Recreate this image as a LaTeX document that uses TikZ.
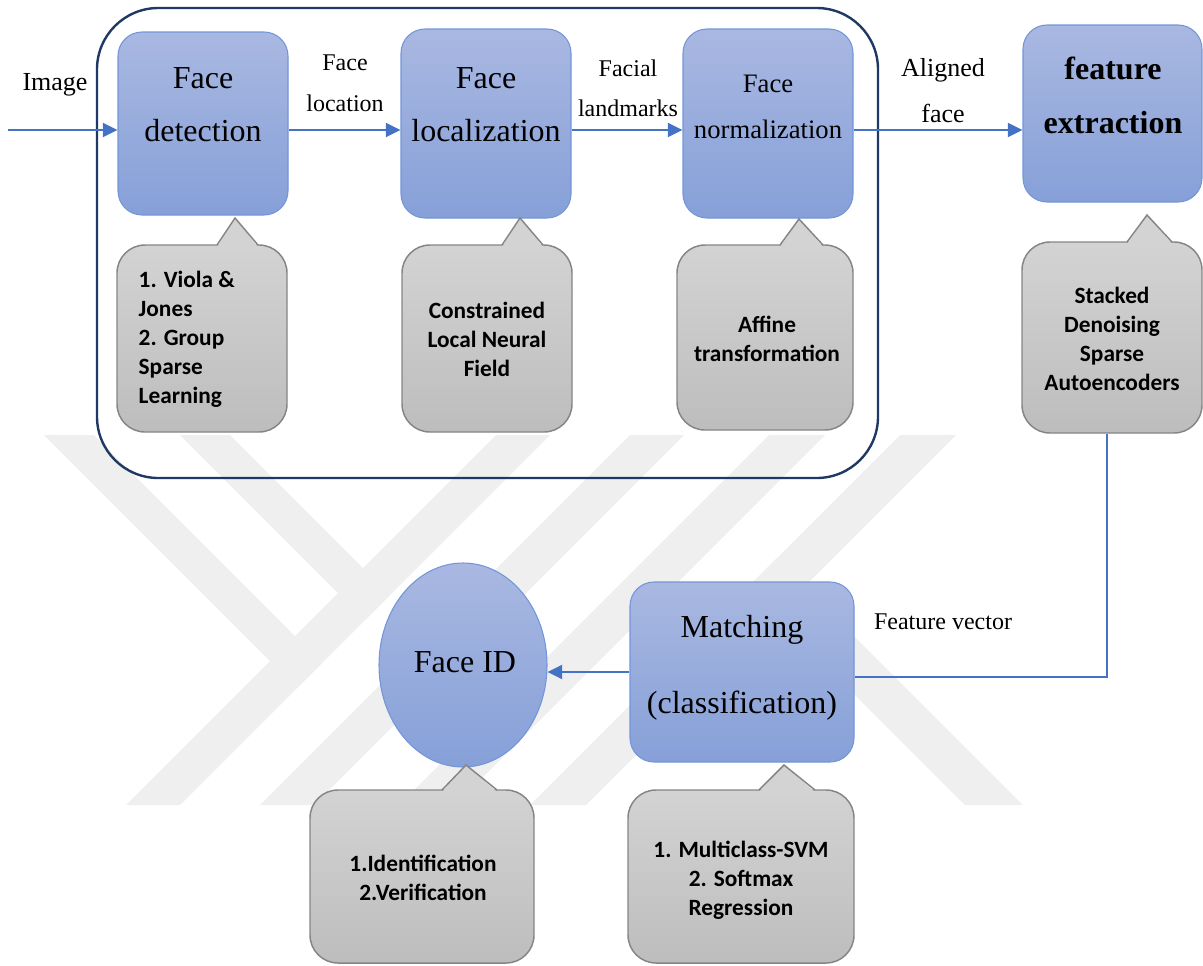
\documentclass[tikz,border=0pt]{standalone}
\usepackage{fontspec}
\setmainfont{Liberation Serif}
\newfontfamily\notefont{Carlito}
\usetikzlibrary{arrows.meta,shapes.geometric}

\definecolor{boxtop}{HTML}{A9B8E1}
\definecolor{boxbot}{HTML}{86A0D8}
\definecolor{boxedge}{HTML}{7395DA}
\definecolor{notetop}{HTML}{D3D3D3}
\definecolor{notebot}{HTML}{BDBDBD}
\definecolor{noteedge}{HTML}{858585}
\definecolor{flowblue}{HTML}{4472C4}
\definecolor{navy}{HTML}{1F3864}
\definecolor{wmark}{HTML}{EFEFEF}

% speech-bubble tip: base from #1 to #4 on the top edge #5, apex at (#2,#3)
\newcommand\notetip[5]{%
  \fill[notetop] (#1,#5+2) -- (#2,#3) -- (#4,#5+2) -- cycle;
  \draw[noteedge, line width=1.1pt, line join=miter] (#1,#5) -- (#2,#3) -- (#4,#5);
}

\begin{document}
\begin{tikzpicture}[x=0.75pt,y=-0.75pt,
  bluebox/.style={draw=boxedge, line width=0.8pt, top color=boxtop, bottom color=boxbot,
    rounded corners=18pt, inner sep=0pt},
  notebox/.style={draw=noteedge, line width=1.1pt, top color=notetop, bottom color=notebot,
    rounded corners=21pt, inner sep=0pt},
  frame/.style={draw=navy, line width=1.8pt, rounded corners=46pt, inner sep=0pt},
  flow/.style={draw=flowblue, line width=1.7pt, -{Triangle[length=11pt,width=10.5pt]}},
  fvline/.style={draw=flowblue, line width=1.4pt},
  boxtext/.style={align=center, font=\fontsize{24}{40}\selectfont},
  notetext/.style={align=center, font=\notefont\bfseries\fontsize{17.5}{21.75}\selectfont},
  lbl/.style={align=center, font=\fontsize{18}{31}\selectfont},
  wm/.style={fill=wmark}
]
\useasboundingbox (0,0) rectangle (1203,965);

% background watermark stripes
\fill[wm] (126,805) -- (180,805) -- (550,435) -- (496,435) -- cycle;
\fill[wm] (260,805) -- (314,805) -- (684,435) -- (630,435) -- cycle;
\fill[wm] (399,805) -- (455,805) -- (825,435) -- (769,435) -- cycle;
\fill[wm] (530,805) -- (586,805) -- (956,435) -- (900,435) -- cycle;
\fill[wm] (44,435) -- (94,435) -- (322,663) -- (297,688) -- cycle;
\fill[wm] (180,435) -- (230,435) -- (390,595) -- (365,620) -- cycle;
\fill[wm] (747.5,587.5) -- (776.5,558.5) -- (1023,805) -- (965,805) -- cycle;

% grouping frame of the alignment stages
\node[frame, minimum width=585.75pt, minimum height=352.5pt] (stage) at (487.5,243) {};

% processing blocks
\node[bluebox, minimum width=127.5pt, minimum height=137.25pt] (det) at (203,123.5) {};
\node[boxtext] (det-t) at (203,105) {Face\\detection};

\node[bluebox, minimum width=127.5pt, minimum height=141.75pt] (loc) at (486,123.5) {};
\node[boxtext] (loc-t) at (486,105) {Face\\localization};

\node[bluebox, minimum width=127.5pt, minimum height=141.75pt] (norm) at (768,123.5) {};
\node[boxtext, font=\fontsize{20}{34.5}\selectfont] (norm-t) at (768,107) {Face\\normalization};

\node[bluebox, minimum width=134.25pt, minimum height=132.75pt] (feat) at (1112.5,113.5) {};
\node[boxtext, font=\bfseries\fontsize{24}{41}\selectfont] (feat-t) at (1113,95.5) {feature\\extraction};

\node[bluebox, minimum width=168pt, minimum height=135pt] (match) at (742,672) {};
\node[boxtext, font=\fontsize{24}{57}\selectfont] (match-t) at (742,668) {Matching\\(classification)};

\node[bluebox, ellipse, minimum width=126pt, minimum height=153pt] (faceid) at (463,665) {};
\node[boxtext] (faceid-t) at (465,662) {Face ID};

% method notes
\node[notebox, minimum width=127.5pt, minimum height=140.25pt] (dcall) at (202,338.5) {};
\notetip{217}{235}{218}{258}{245}
\node[notetext, align=left, anchor=west] (dcall-t) at (134,339)
  {1. Viola \&\\Jones\\2. Group\\Sparse\\Learning};

\node[notebox, minimum width=127.5pt, minimum height=140.25pt] (lcall) at (487,338.5) {};
\notetip{502}{520}{218}{543}{245}
\node[notetext] (lcall-t) at (487,339) {Constrained\\Local Neural\\Field};

\node[notebox, minimum width=132pt, minimum height=138.75pt] (ncall) at (765,337.5) {};
\notetip{780}{799}{219}{823}{245}
\node[notetext] (ncall-t) at (767,339) {Affine\\transformation};

\node[notebox, minimum width=135pt, minimum height=143.25pt] (fcall) at (1112,337.5) {};
\notetip{1127}{1147}{215}{1172}{242}
\node[notetext] (fcall-t) at (1112,339) {Stacked\\Denoising\\Sparse\\Autoencoders};

\node[notebox, minimum width=168pt, minimum height=129.75pt] (icall) at (422,876.5) {};
\notetip{442}{466}{765}{497}{790}
\node[notetext] (icall-t) at (423,878) {1.Identification\\2.Verification};

\node[notebox, minimum width=169.5pt, minimum height=129.75pt] (mcall) at (741,876.5) {};
\notetip{759}{784}{765}{815}{790}
\node[notetext] (mcall-t) at (741,880) {1. Multiclass-SVM\\2. Softmax\\Regression};

% edge labels
\node[lbl, font=\fontsize{19.5}{31}\selectfont] (img) at (55,85) {Image};
\node[lbl] (floc) at (345,83.5) {Face\\location};
\node[lbl, font=\fontsize{18}{30}\selectfont] (flm) at (628,88) {Facial\\landmarks};
\node[lbl, font=\fontsize{19.5}{34}\selectfont] (alf) at (943,90.5) {Aligned\\face};
\node[lbl] (fv) at (943,622) {Feature vector};

% pipeline connectors
\coordinate (src) at (8,130);
\coordinate (row) at (0,130);
\draw[flow] (src) -- (det.west |- row);
\draw[flow] (det.east |- row) -- (loc.west |- row);
\draw[flow] (loc.east |- row) -- (norm.west |- row);
\draw[flow] (norm.east |- row) -- (feat.west |- row);
\draw[fvline] ([xshift=-3.75pt]fcall.south) |- ([yshift=-3.5pt]match.east);
\draw[flow] (match.west) -- (match.west -| faceid.east);
\end{tikzpicture}
\end{document}
